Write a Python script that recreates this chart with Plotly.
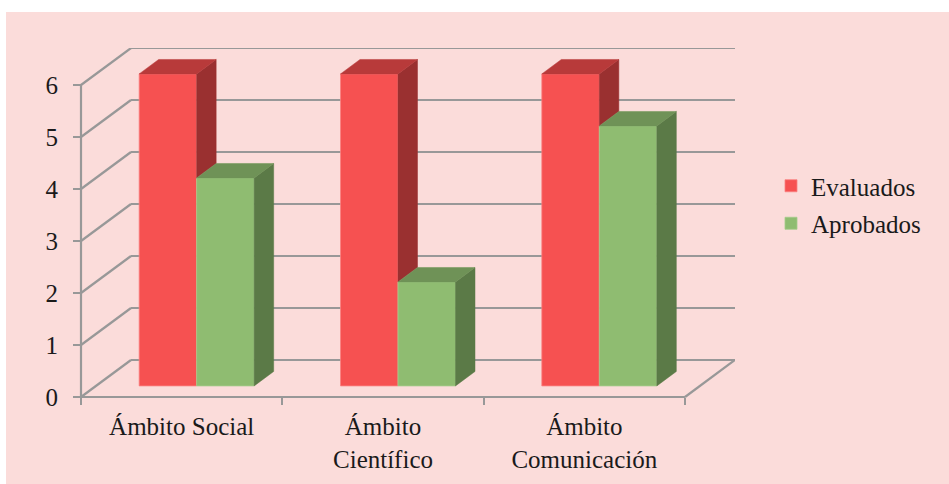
import plotly.graph_objects as go

categories = ["Ámbito Social", "Ámbito<br>Científico", "Ámbito<br>Comunicación"]
evaluados = [6, 6, 6]
aprobados = [4, 2, 5]
y_ticks = [0, 1, 2, 3, 4, 5, 6]

W, H = 949, 484
PAD_L, PAD_B = 6, 8          # room inside the plot area, so the axis lines are not clipped
AX_L, AX_B = 81, 397         # where value 0 / category 0 sit
L, R, T, B = AX_L - PAD_L, 735, 48, AX_B + PAD_B
UX = 201.33  # px per category
UY = 52.0    # px per value
WALL_X = (R - AX_L - 3 * UX) / UX   # depth of the wall, in category units
WALL_Y = 37 / UY                     # depth of the wall, in value units
X_MAX = 3 + WALL_X
Y_MAX = 6 + WALL_Y
FRONT = 0.30   # depth fraction of the bars' front face
THICK = 0.39   # depth fraction of the bars' thickness
BW = 0.2856
OX, OY = FRONT * WALL_X, FRONT * WALL_Y
DX, DY = THICK * WALL_X, THICK * WALL_Y
GRID = "#989898"
BG = "#FBDCDA"

centers = [i + 0.5 + OX for i in range(3)]


def polys(rows):
    xs, ys = [], []
    for pts in rows:
        xs += [p[0] for p in pts] + [pts[0][0], None]
        ys += [p[1] for p in pts] + [pts[0][1], None]
    return xs, ys


def face(rows, color):
    xs, ys = polys(rows)
    return go.Scatter(x=xs, y=ys, mode="lines", fill="toself", fillcolor=color,
                      line=dict(color=color, width=0.5), hoverinfo="skip",
                      showlegend=False)


fig = go.Figure()
fig.add_bar(name="Evaluados", x=centers, y=evaluados, base=OY, width=BW, offset=-BW,
            marker=dict(color="#F65151", line=dict(color="#FA8080", width=0.8)),
            legendgroup="a")
fig.add_bar(name="Aprobados", x=centers, y=aprobados, base=OY, width=BW, offset=0,
            marker=dict(color="#8FBC71", line=dict(color="#A5CB8C", width=0.8)),
            legendgroup="b")

# red faces: the side stops where the neighbouring green block starts
red_side, red_top, green_side, green_top = [], [], [], []
for c, r, g in zip(centers, evaluados, aprobados):
    red_side.append([(c, OY + r), (c + DX, OY + r + DY), (c + DX, OY + g + DY), (c, OY + g)])
    x0 = c - BW
    red_top.append([(x0, OY + r), (c, OY + r), (c + DX, OY + r + DY), (x0 + DX, OY + r + DY)])
    x1 = c + BW
    green_side.append([(x1, OY), (x1 + DX, OY + DY), (x1 + DX, OY + g + DY), (x1, OY + g)])
    green_top.append([(c, OY + g), (x1, OY + g), (x1 + DX, OY + g + DY), (c + DX, OY + g + DY)])

fig.add_trace(face(red_side, "#9A3030"))
fig.add_trace(face(red_top, "#B83A3A"))
fig.add_trace(face(green_side, "#5B7A47"))
fig.add_trace(face(green_top, "#6F9257"))

# front edges of the floor and the vertical axis
fig.add_trace(go.Scatter(x=[0, 0, None, 0, 3], y=[6, 0, None, 0, 0], mode="lines",
                         line=dict(color=GRID, width=2.2), hoverinfo="skip",
                         showlegend=False))

shapes = [dict(type="rect", xref="paper", yref="paper",
               x0=(6 - L) / (R - L), x1=(W - L) / (R - L),
               y0=(B - H) / (B - T), y1=(B - 12) / (B - T),
               fillcolor=BG, line_width=0, layer="below")]
ln = dict(color=GRID, width=2.2)
for v in y_ticks:
    shapes.append(dict(type="line", x0=0, y0=v, x1=WALL_X, y1=v + WALL_Y, line=ln, layer="below"))
    shapes.append(dict(type="line", x0=WALL_X, y0=v + WALL_Y, x1=X_MAX, y1=v + WALL_Y, line=ln, layer="below"))
shapes.append(dict(type="line", x0=3, y0=0, x1=X_MAX, y1=WALL_Y, line=ln, layer="below"))

fig.update_layout(
    width=W, height=H, autosize=False,
    margin=dict(l=L, r=W - R, t=T, b=H - B, pad=0),
    paper_bgcolor="white", plot_bgcolor="rgba(0,0,0,0)",
    font=dict(family="Liberation Serif", size=25, color="#1a1a1a"),
    barmode="overlay", shapes=shapes,
    legend=dict(x=(771 - L) / (R - L), xanchor="left", y=(AX_B - 163) / (B - T) + PAD_B / (B - T),
                yanchor="top", bgcolor="rgba(0,0,0,0)", tracegroupgap=2, font=dict(size=25)),
    xaxis=dict(range=[-PAD_L / UX, X_MAX], showgrid=False, zeroline=False, showline=False,
               automargin=False, anchor="free", position=PAD_B / (B - T),
               tickmode="array", tickvals=[0.5, 1.5, 2.5], ticktext=categories, ticks="",
               minor=dict(tickmode="array", tickvals=[0, 1, 2, 3], ticks="outside",
                          ticklen=7, tickwidth=2, tickcolor=GRID, showgrid=False),
               ticklabelstandoff=12),
    yaxis=dict(range=[-PAD_B / UY, Y_MAX], showgrid=False, zeroline=False, showline=False,
               automargin=False, anchor="free", position=PAD_L / (R - L),
               tickmode="array", tickvals=y_ticks, ticks="outside", ticklen=8, tickwidth=2,
               tickcolor=GRID, ticklabelstandoff=10),
)

fig.write_html("out.html", config=dict(displayModeBar=False),
               post_script="document.body.style.margin='0';")
